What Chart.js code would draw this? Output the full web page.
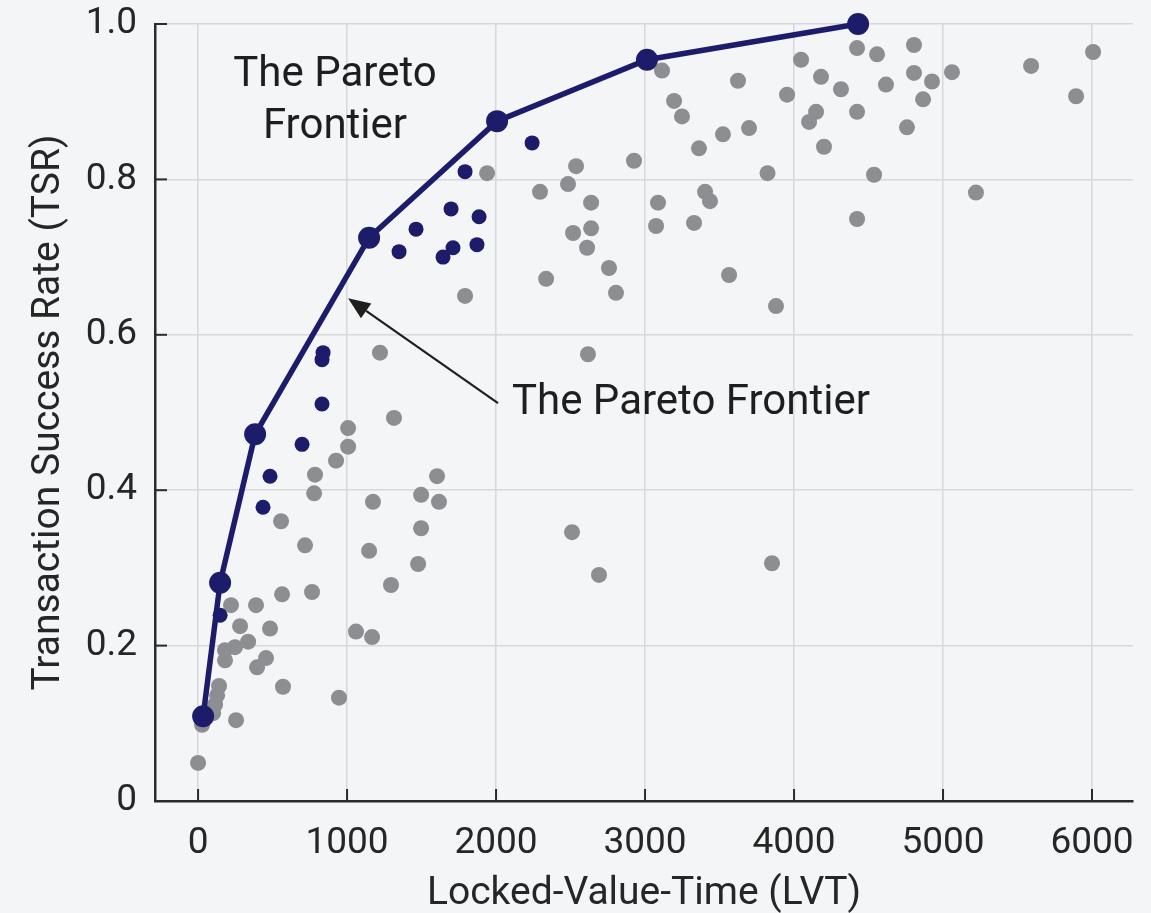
<!DOCTYPE html>
<html>
<head>
<meta charset="utf-8">
<script src="https://cdn.jsdelivr.net/npm/chart.js@4.4.1/dist/chart.umd.min.js"></script>
<style>
html,body{margin:0;padding:0;background:#f3f5f7;}
#wrap{width:1151px;height:913px;position:relative;}
</style>
</head>
<body>
<div id="wrap"><canvas id="c"></canvas></div>
<script>
// ---- Data ----
const frontierLVT = [34, 148, 383, 1148, 2007, 3013, 4430];
const frontierTSR = [0.109, 0.281, 0.472, 0.725, 0.875, 0.954, 1.0];

const nearLVT = [148, 436, 483, 698, 832, 832, 839, 1349, 1463, 1644, 1711, 1698, 1872, 1886, 1792, 2242];
const nearTSR = [0.239, 0.378, 0.418, 0.459, 0.511, 0.568, 0.577, 0.707, 0.736, 0.700, 0.712, 0.762, 0.716, 0.752, 0.810, 0.847];

const otherLVT = [0, 27, 101, 114, 128, 141, 255, 181, 181, 248, 336, 282, 221, 389, 483, 456, 396, 570, 946, 1060, 1168,
  564, 765, 1295, 718, 557, 1148, 779, 785, 926, 1007, 1007, 1174, 1221, 1315, 1497, 1604, 1617, 1497, 1477,
  2510, 2691, 3852, 2617, 1792, 2336, 2805, 3564, 2758, 2611, 2517, 2638, 2638, 3074, 3329, 2295, 2483, 2537,
  1940, 2926, 3087, 3403, 3436, 3362, 3523, 3698, 3248, 3195, 3114, 3624, 3822, 3879,
  4423, 4805, 4557, 6007, 5591, 4047, 4181, 4805, 4926, 5060, 4315, 4617, 3953, 4866, 5893, 4148, 4101, 4423,
  4758, 4201, 4537, 5221, 4423];
const otherTSR = [0.049, 0.098, 0.113, 0.124, 0.136, 0.148, 0.104, 0.181, 0.194, 0.198, 0.205, 0.225, 0.252, 0.252, 0.222, 0.184, 0.172, 0.147, 0.133, 0.218, 0.211,
  0.266, 0.269, 0.278, 0.329, 0.360, 0.322, 0.396, 0.420, 0.438, 0.456, 0.480, 0.385, 0.577, 0.493, 0.394, 0.418, 0.385, 0.351, 0.305,
  0.346, 0.291, 0.306, 0.575, 0.650, 0.672, 0.654, 0.677, 0.686, 0.712, 0.731, 0.737, 0.770, 0.740, 0.744, 0.784, 0.794, 0.817,
  0.808, 0.824, 0.770, 0.784, 0.772, 0.840, 0.858, 0.866, 0.881, 0.901, 0.940, 0.927, 0.808, 0.637,
  0.969, 0.973, 0.961, 0.964, 0.946, 0.954, 0.932, 0.937, 0.926, 0.938, 0.916, 0.922, 0.909, 0.903, 0.907, 0.887, 0.874, 0.887,
  0.867, 0.842, 0.806, 0.783, 0.749];

const xTicks = [0, 1000, 2000, 3000, 4000, 5000, 6000];
const yTicks = [0, 0.2, 0.4, 0.6, 0.8, 1.0];

const xTitle = 'Locked-Value-Time (LVT)';
const yTitle = 'Transaction Success Rate (TSR)';

// annotation texts with anchors in data coordinates
const noteTopLines = ['The Pareto', 'Frontier'];
const noteTopLVT = 919;
const noteTopTSR = [0.934, 0.867];
const noteSideText = 'The Pareto Frontier';
const noteSideLVT = 2107;
const noteSideTSR = 0.512;
const arrowFrom = [2013, 0.512];
const arrowTo = [1007, 0.647];

// ---- Style ----
const NAVY = '#1c1c6b';
const GREY = '#8d8e91';
const TEXT = '#262626';
const FONT = 'Roboto';

const overlay = {
  id: 'overlay',
  beforeDatasetsDraw(chart) {
    const {ctx, scales: {x, y}} = chart;
    ctx.save();
    ctx.strokeStyle = '#2b2b2b';
    ctx.lineWidth = 2;
    xTicks.forEach(v => {
      const px = x.getPixelForValue(v);
      ctx.beginPath(); ctx.moveTo(px, y.bottom); ctx.lineTo(px, y.bottom - 12); ctx.stroke();
    });
    yTicks.forEach(v => {
      const py = y.getPixelForValue(v);
      ctx.beginPath(); ctx.moveTo(x.left, py); ctx.lineTo(x.left + 12, py); ctx.stroke();
    });
    ctx.restore();
  },
  afterDatasetsDraw(chart) {
    const {ctx, scales: {x, y}} = chart;
    ctx.save();
    ctx.fillStyle = '#1e1e1e';
    ctx.font = '42px ' + FONT;
    ctx.textBaseline = 'middle';
    ctx.textAlign = 'center';
    noteTopLines.forEach((t, i) => {
      ctx.fillText(t, x.getPixelForValue(noteTopLVT), y.getPixelForValue(noteTopTSR[i]));
    });
    ctx.textAlign = 'left';
    ctx.fillText(noteSideText, x.getPixelForValue(noteSideLVT), y.getPixelForValue(noteSideTSR));
    // arrow
    const x1 = x.getPixelForValue(arrowFrom[0]), y1 = y.getPixelForValue(arrowFrom[1]);
    const x2 = x.getPixelForValue(arrowTo[0]), y2 = y.getPixelForValue(arrowTo[1]);
    const ang = Math.atan2(y2 - y1, x2 - x1);
    const hl = 22, hw = 9;
    const bx = x2 - hl * Math.cos(ang), by = y2 - hl * Math.sin(ang);
    ctx.strokeStyle = '#1e1e1e';
    ctx.lineWidth = 2.2;
    ctx.beginPath(); ctx.moveTo(x1, y1); ctx.lineTo(bx, by); ctx.stroke();
    ctx.beginPath();
    ctx.moveTo(x2, y2);
    ctx.lineTo(bx + hw * Math.sin(ang), by - hw * Math.cos(ang));
    ctx.lineTo(bx - hw * Math.sin(ang), by + hw * Math.cos(ang));
    ctx.closePath();
    ctx.fillStyle = '#1e1e1e';
    ctx.fill();
    ctx.restore();
  }
};

const toPts = (xs, ys) => xs.map((v, i) => ({x: v, y: ys[i]}));

new Chart(document.getElementById('c'), {
  type: 'scatter',
  data: {
    datasets: [
      {
        label: 'Pareto frontier',
        data: toPts(frontierLVT, frontierTSR),
        showLine: true,
        borderColor: NAVY,
        backgroundColor: NAVY,
        borderWidth: 5.5,
        pointRadius: 11,
        pointBorderWidth: 0,
        clip: false
      },
      {
        label: 'Near frontier',
        data: toPts(nearLVT, nearTSR),
        backgroundColor: NAVY,
        borderColor: NAVY,
        pointRadius: 7.5,
        pointBorderWidth: 0,
        clip: false
      },
      {
        label: 'Other configurations',
        data: toPts(otherLVT, otherTSR),
        backgroundColor: GREY,
        borderColor: GREY,
        pointRadius: 8,
        pointBorderWidth: 0,
        clip: false
      }
    ]
  },
  options: {
    responsive: true,
    maintainAspectRatio: false,
    animation: false,
    events: [],
    layout: {padding: {top: 24, right: 18, bottom: 0, left: 0}},
    plugins: {legend: {display: false}, tooltip: {enabled: false}},
    scales: {
      x: {
        type: 'linear',
        min: -289,
        max: 6275,
        afterBuildTicks: s => { s.ticks = xTicks.map(v => ({value: v})); },
        afterFit: s => { s.height = 112; s.paddingLeft = 0; s.paddingRight = 0; },
        grid: {color: '#d6d8db', lineWidth: 1.5, drawTicks: false},
        border: {display: true, color: '#2b2b2b', width: 2.5},
        ticks: {color: TEXT, font: {family: FONT, size: 37}, padding: 21, maxRotation: 0,
          callback: v => String(v)},
        title: {display: true, text: xTitle, color: TEXT, font: {family: FONT, size: 39}, padding: {top: 0, bottom: -5}}
      },
      y: {
        type: 'linear',
        min: 0,
        max: 1.0,
        afterBuildTicks: s => { s.ticks = yTicks.map(v => ({value: v})); },
        afterFit: s => { s.width = 155; s.paddingTop = 0; s.paddingBottom = 0; },
        grid: {color: '#d6d8db', lineWidth: 1.5, drawTicks: false},
        border: {display: true, color: '#2b2b2b', width: 2.5},
        ticks: {color: TEXT, font: {family: FONT, size: 37}, padding: 18,
          callback: v => v === 0 ? '0' : v.toFixed(1)},
        title: {display: true, text: yTitle, color: TEXT, font: {family: FONT, size: 39}, padding: {top: 26, bottom: 0}}
      }
    }
  },
  plugins: [overlay]
});
</script>
</body>
</html>
